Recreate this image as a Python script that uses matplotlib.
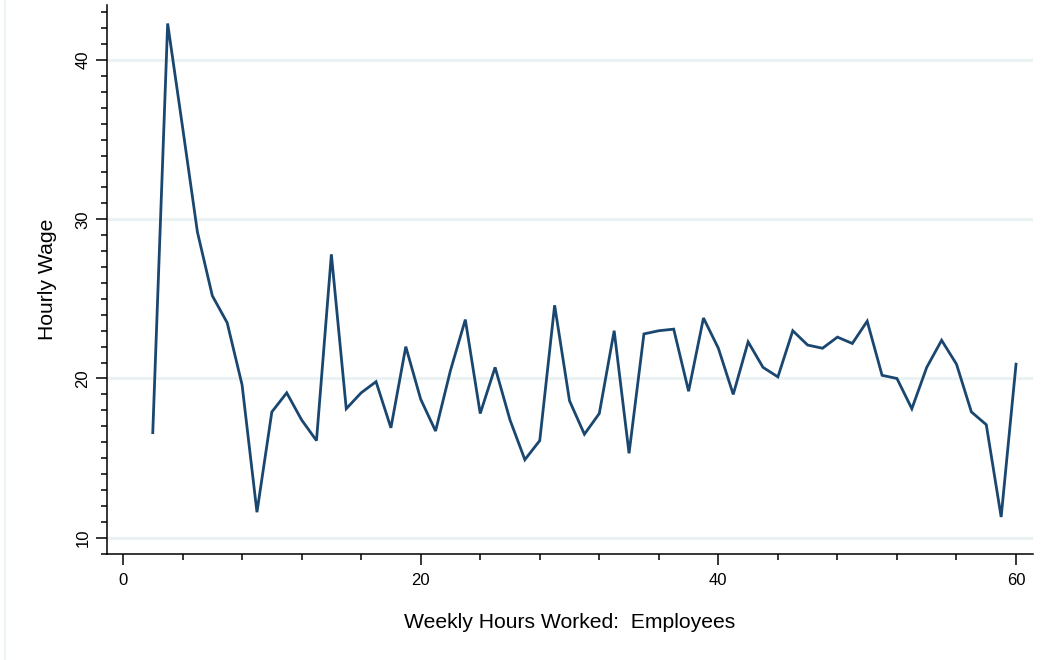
import matplotlib
matplotlib.use("Agg")
import matplotlib.pyplot as plt
from matplotlib.ticker import MultipleLocator
from matplotlib.lines import Line2D

# data ----------------------------------
hours = list(range(2, 61))
wage = [16.6, 42.3, 35.8, 29.2, 25.2, 23.5, 19.6, 11.6, 17.9, 19.1,
        17.4, 16.1, 27.8, 18.1, 19.1, 19.8, 16.9, 22.0, 18.7, 16.7,
        20.5, 23.7, 17.8, 20.7, 17.4, 14.9, 16.1, 24.6, 18.6, 16.5,
        17.8, 23.0, 15.3, 22.8, 23.0, 23.1, 19.2, 23.8, 21.9, 19.0,
        22.3, 20.7, 20.1, 23.0, 22.1, 21.9, 22.6, 22.2, 23.6, 20.2,
        20.0, 18.1, 20.7, 22.4, 20.9, 17.9, 17.1, 11.3, 20.9]

x_major = [0, 20, 40, 60]
y_major = [10, 20, 30, 40]

plt.rcParams['font.family'] = ['Liberation Sans', 'DejaVu Sans']

fig = plt.figure(figsize=(10.48, 6.60), dpi=100)
ax = fig.add_axes([107/1048, 106/660, 926/1048, 549/660])

for yv in y_major:
    ax.axhline(yv, color='#eaf2f3', lw=2.2, zorder=0)

ax.plot(hours, wage, color='#1a476f', lw=2.0, solid_joinstyle='miter')

ax.set_xlim(-1.075, 61.14)
ax.set_ylim(8.976, 43.46)

ax.set_xticks(x_major)
ax.set_yticks(y_major)
ax.xaxis.set_minor_locator(MultipleLocator(4))
ax.yaxis.set_minor_locator(MultipleLocator(1))
ax.tick_params(axis='both', which='major', length=8, width=1.1, labelsize=12, color='black')
ax.tick_params(axis='both', which='minor', length=4.5, width=1.1)
ax.tick_params(axis='x', which='major', pad=6)
ax.tick_params(axis='y', which='major', pad=4)
for lab in ax.get_yticklabels():
    lab.set_rotation(90)
    lab.set_va('center')

ax.spines['top'].set_visible(False)
ax.spines['right'].set_visible(False)
ax.spines['left'].set_linewidth(1.1)
ax.spines['bottom'].set_linewidth(1.1)

ax.set_xlabel('Weekly Hours Worked:  Employees', fontsize=15.2, labelpad=17.5)
ax.set_ylabel('Hourly Wage', fontsize=15.2, labelpad=13)

# faint outer frame on the left
fig.add_artist(Line2D([5/1048, 5/1048], [0, 1], transform=fig.transFigure, color='#eaf2f3', lw=1.2))

fig.savefig('out.png', dpi=100)
